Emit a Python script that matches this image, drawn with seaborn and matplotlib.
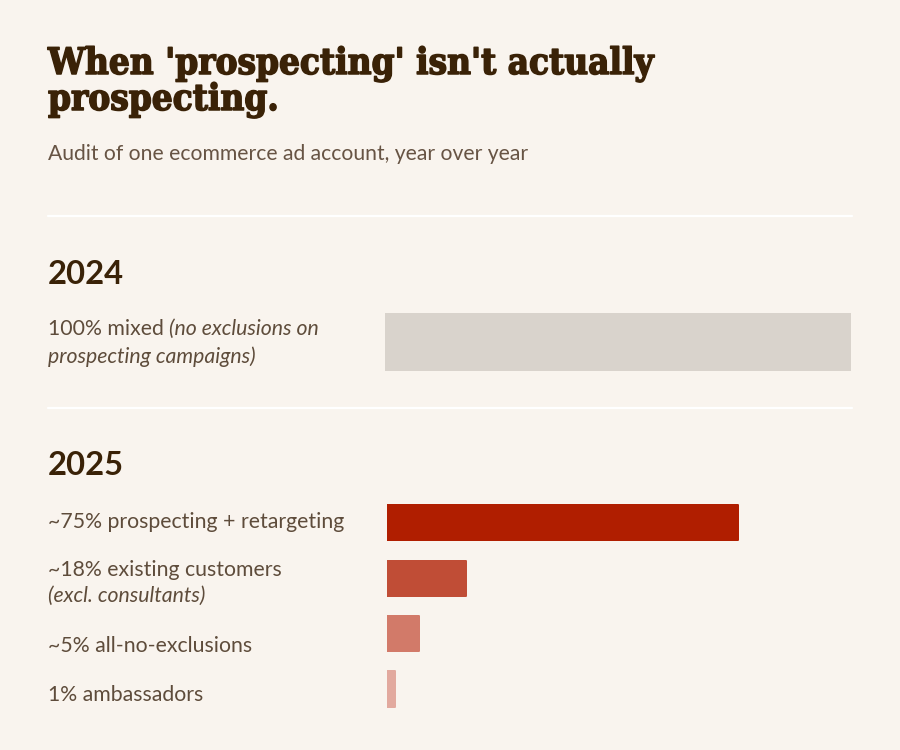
import matplotlib
matplotlib.use("Agg")
import matplotlib.pyplot as plt
import matplotlib.patheffects as pe
import seaborn as sns
import pandas as pd

# ---------------- data ----------------
title_lines = ["When 'prospecting' isn't actually", "prospecting."]
subtitle = "Audit of one ecommerce ad account, year over year"
year_2024 = "2024"
year_2025 = "2025"

cats_2024 = ["mixed"]
vals_2024 = [100]
colors_2024 = ["#D9D3CC"]
labels_2024 = [
    [[("100% mixed ", "normal"), ("(no exclusions on", "italic")],
     [("prospecting campaigns)", "italic")]],
]

cats_2025 = ["prospecting + retargeting", "existing customers",
             "all-no-exclusions", "ambassadors"]
vals_2025 = [75, 17, 7, 1.7]
colors_2025 = ["#B01E00", "#C04D36", "#D27A69", "#E2A99E"]
labels_2025 = [
    [[("~75% prospecting + retargeting", "normal")]],
    [[("~18% existing customers", "normal")], [("(excl. consultants)", "italic")]],
    [[("~5% all-no-exclusions", "normal")]],
    [[("1% ambassadors", "normal")]],
]

# ---------------- layout (pixels from top) ----------------
W, H, DPI = 900, 750, 100
BG = "#F9F4EE"
DARK = "#3A2207"
MUTED = "#5E4C3B"
SUB = "#675444"
label_baselines_2024 = [[334.7, 363.3]]
label_baselines_2025 = [[528.3], [576, 601.7], [652.3], [700.7]]

sns.set_theme(style="white")
plt.rcParams["font.family"] = ["Lato", "DejaVu Sans"]

fig = plt.figure(figsize=(W / DPI, H / DPI), dpi=DPI, facecolor=BG)
renderer = fig.canvas.get_renderer()


def px(v):
    return v * 72.0 / DPI


def ftext(x, y, s, **kw):
    return fig.text(x / W, 1 - y / H, s, ha="left", va="baseline", **kw)


def fit(t, target):
    w = t.get_window_extent(renderer).width
    t.set_fontsize(t.get_fontsize() * target / w)
    return t.get_fontsize()


probe = ftext(0, -100, labels_2025[0][0][0][0], fontsize=px(20))
LAB_SIZE = fit(probe, 296.0)
probe.remove()


def seg_line(x, y, segs, size, color):
    for s, style in segs:
        t = ftext(x, y, s, fontsize=size, color=color, style=style)
        x = x + t.get_window_extent(renderer).width


def draw_label(x, baselines, lines, size, color):
    for yb, segs in zip(baselines, lines):
        seg_line(x, yb, segs, size, color)


# ---------------- title ----------------
TFONT = dict(family=["DejaVu Serif"], weight="heavy", stretch="condensed")
stroke = [pe.withStroke(linewidth=1.1, foreground=DARK)]
t = ftext(48, 74, title_lines[0], fontsize=px(34), color=DARK,
          path_effects=stroke, **TFONT)
tsize = fit(t, 605.0)
ftext(48, 110, title_lines[1], fontsize=tsize, color=DARK,
      path_effects=stroke, **TFONT)

s = ftext(48, 160.5, subtitle, fontsize=px(20), color=SUB)
fit(s, 481.0)

# ---------------- dividers ----------------
for yy in (215.5, 407.5):
    fig.add_artist(plt.Line2D([48 / W, 852 / W], [1 - yy / H, 1 - yy / H],
                              color="white", lw=px(2.2),
                              transform=fig.transFigure))

# ---------------- year headings ----------------
for yr, yb in ((year_2024, 283.5), (year_2025, 475)):
    h = ftext(48, yb, yr, fontsize=px(32.5), color=DARK, weight="bold")
    fit(h, 76.0)

# ---------------- bars ----------------
LW = 2.0  # px, rounded edge


def bar_axes(left, top, width, height):
    return fig.add_axes([left / W, 1 - (top + height) / H, width / W, height / H])


def style_bars(ax):
    for p in ax.patches:
        p.set_edgecolor(p.get_facecolor())
        p.set_linewidth(px(LW))
        p.set_joinstyle("round")
    ax.set_axis_off()
    ax.patch.set_alpha(0)


# 2024
df24 = pd.DataFrame({"cat": cats_2024, "val": vals_2024})
ax1 = bar_axes(385, 313, 466, 58)
sns.barplot(data=df24, x="val", y="cat", hue="cat", palette=colors_2024,
            orient="h", width=1.0, legend=False, ax=ax1, saturation=1)
ax1.set_ylim(0.5, -0.5)
style_bars(ax1)
ax1.set_xlim(0, 100)

# 2025
df25 = pd.DataFrame({"cat": cats_2025, "val": vals_2025})
pitch = 55.45
ax2 = bar_axes(386.7, 522.7 - pitch / 2, 468, pitch * 4)
sns.barplot(data=df25, x="val", y="cat", hue="cat", palette=colors_2025,
            orient="h", width=(37.3 - LW) / pitch, legend=False, ax=ax2,
            saturation=1)
ax2.set_ylim(3.5, -0.5)
style_bars(ax2)
ax2.set_xlim(0, 100)

# ---------------- labels ----------------
for bl, lab in zip(label_baselines_2024, labels_2024):
    draw_label(48, bl, lab, LAB_SIZE, MUTED)
for bl, lab in zip(label_baselines_2025, labels_2025):
    draw_label(48, bl, lab, LAB_SIZE, MUTED)

fig.savefig("out.png", dpi=DPI, facecolor=BG)
